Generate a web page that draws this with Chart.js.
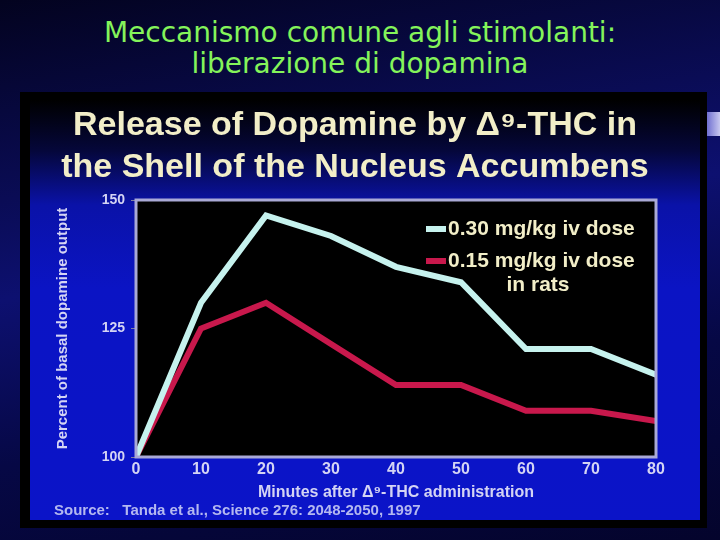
<!DOCTYPE html>
<html>
<head>
<meta charset="utf-8">
<script src="https://cdn.jsdelivr.net/npm/chart.js@4/dist/chart.umd.min.js"></script>
<style>
  html, body { margin: 0; padding: 0; }
  body {
    width: 720px; height: 540px; overflow: hidden; position: relative;
    background: linear-gradient(170deg, #03031f 0%, #0a0c55 30%, #0d1070 45%, #060845 70%, #04042c 100%);
  }
  #slideTitle {
    position: absolute; left: 0; top: 17px; width: 720px;
    text-align: center; color: #84f45a;
    font-family: "DejaVu Sans", sans-serif;
    font-size: 28px; line-height: 31px;
  }
  #frame {
    position: absolute; left: 20px; top: 92px; width: 687px; height: 436px;
    background: #000;
  }
  #inner {
    position: absolute; left: 10px; top: 8px; width: 670px; height: 420px;
    background: linear-gradient(180deg, #000000 0%, #05073a 12%, #0a12a8 25%, #0b14c4 45%, #0b14c8 100%);
  }
  #tab {
    position: absolute; left: 707px; top: 112px; width: 13px; height: 24px;
    background: linear-gradient(90deg, #7070d0, #c8c8f0);
  }
</style>
</head>
<body>
<div id="slideTitle">Meccanismo comune agli stimolanti:<br>liberazione di dopamina</div>
<div id="tab"></div>
<div id="frame"><div id="inner"><canvas id="grafico" width="670" height="420"></canvas></div></div>
<script>
// dati
const minuti = [0, 10, 20, 30, 40, 50, 60, 70, 80];
const dose030 = [100, 130, 147, 143, 137, 134, 121, 121, 116];
const dose015 = [100, 125, 130, 122, 114, 114, 109, 109, 107];
const etichette = ['0.30 mg/kg iv dose', '0.15 mg/kg iv dose'];
const notaLegenda = 'in rats';
const yTicks = [100, 125, 150];

const ciano = '#c6f2ee';
const rosso = '#c8184c';
const crema = '#f2eec8';
const lavanda = '#d4d4f4';
const arial = '"Liberation Sans", Arial, sans-serif';

// sfondo nero e bordo dell'area del grafico
const areaPlugin = {
  id: 'areaPlugin',
  beforeDraw(chart) {
    const { ctx, chartArea: a } = chart;
    ctx.save();
    ctx.fillStyle = '#000';
    ctx.fillRect(a.left, a.top, a.right - a.left, a.bottom - a.top);
    ctx.restore();
  },
  afterDraw(chart) {
    const { ctx, chartArea: a } = chart;
    ctx.save();
    ctx.strokeStyle = '#a9a9d6';
    ctx.lineWidth = 3;
    ctx.strokeRect(a.left, a.top, a.right - a.left, a.bottom - a.top);
    ctx.restore();
  }
};

// legenda dentro il grafico, in alto a destra
const legendaPlugin = {
  id: 'legendaPlugin',
  afterDatasetsDraw(chart) {
    const { ctx, chartArea: a } = chart;
    ctx.save();
    ctx.font = 'bold 21px ' + arial;
    ctx.textBaseline = 'middle';
    const x0 = a.right - 208;
    chart.data.datasets.forEach((ds, i) => {
      const y = a.top + 29 + i * 32;
      ctx.strokeStyle = ds.borderColor;
      ctx.lineWidth = 6;
      ctx.beginPath();
      ctx.moveTo(x0 - 22, y);
      ctx.lineTo(x0 - 2, y);
      ctx.stroke();
      ctx.fillStyle = crema;
      ctx.textAlign = 'left';
      ctx.fillText(ds.label, x0, y);
    });
    ctx.textAlign = 'center';
    ctx.fillText(notaLegenda, x0 + 90, a.top + 85);
    ctx.restore();
  }
};

const ctx = document.getElementById('grafico');

const chart = new Chart(ctx, {
  type: 'line',
  data: {
    datasets: [
      {
        label: etichette[0],
        data: minuti.map((m, i) => ({ x: m, y: dose030[i] })),
        borderColor: ciano,
        borderWidth: 6,
        pointRadius: 0,
        tension: 0
      },
      {
        label: etichette[1],
        data: minuti.map((m, i) => ({ x: m, y: dose015[i] })),
        borderColor: rosso,
        borderWidth: 6,
        pointRadius: 0,
        tension: 0
      }
    ]
  },
  options: {
    responsive: false,
    animation: false,
    layout: { padding: { left: 24, right: 44, top: 0, bottom: 0 } },
    plugins: {
      legend: { display: false },
      tooltip: { enabled: false },
      title: {
        display: true,
        text: ['Release of Dopamine by \u0394\u2079-THC in', 'the Shell of the Nucleus Accumbens'],
        color: crema,
        font: { family: arial, size: 34, weight: 'bold', lineHeight: 1.25 },
        padding: { top: 4, bottom: 11 }
      },
      subtitle: {
        display: true,
        position: 'bottom',
        align: 'start',
        text: 'Source:   Tanda et al., Science 276: 2048-2050, 1997',
        color: '#b4b8f0',
        font: { family: arial, size: 15, weight: 'bold' },
        padding: { top: 0, bottom: 0 }
      }
    },
    scales: {
      x: {
        type: 'linear',
        min: 0,
        max: 80,
        ticks: { stepSize: 10, color: lavanda, padding: 3,
          font: { family: arial, size: 16, weight: 'bold' } },
        grid: { display: false, drawTicks: false },
        border: { display: false },
        title: {
          display: true,
          text: 'Minutes after \u0394\u2079-THC administration',
          color: lavanda,
          font: { family: arial, size: 16, weight: 'bold' },
          padding: { top: 2, bottom: 0 }
        },
        afterFit(scale) { scale.height = 45; }
      },
      y: {
        min: 100,
        max: 150,
        afterBuildTicks(scale) { scale.ticks = yTicks.map(v => ({ value: v })); },
        ticks: { color: lavanda, padding: 6,
          font: { family: arial, size: 14, weight: 'bold' } },
        grid: { drawOnChartArea: false, tickLength: 5, color: '#8080a0' },
        border: { display: false },
        title: {
          display: true,
          text: 'Percent of basal dopamine output',
          color: lavanda,
          font: { family: arial, size: 15, weight: 'bold' },
          padding: { top: 0, bottom: 0 }
        },
        afterFit(scale) { scale.width = 82; }
      }
    }
  },
  plugins: [areaPlugin, legendaPlugin]
});
</script>
</body>
</html>
